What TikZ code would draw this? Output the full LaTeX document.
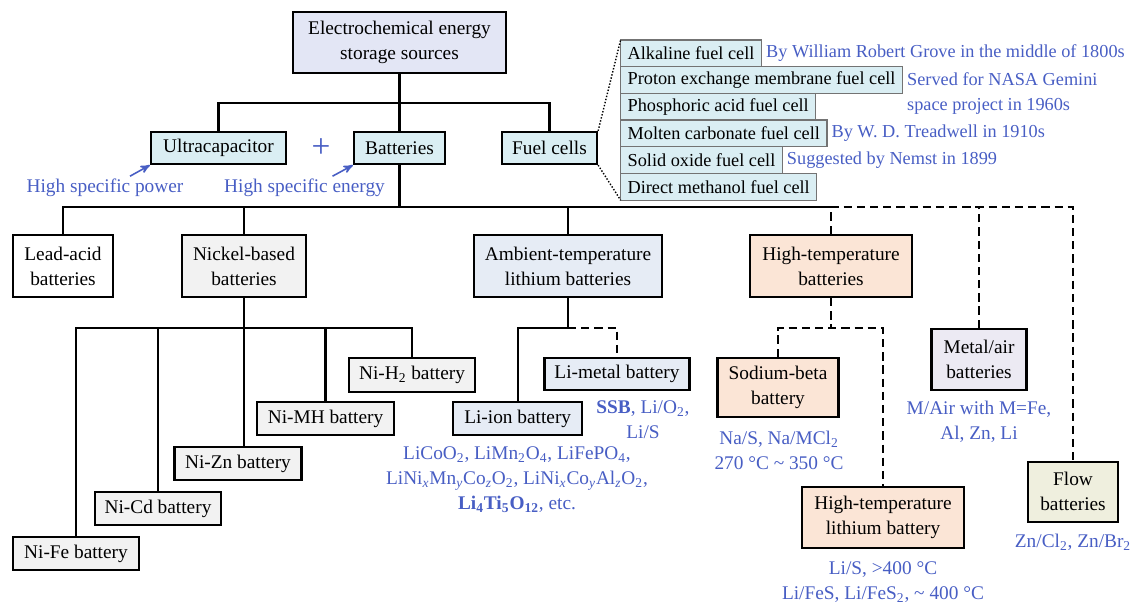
\documentclass[tikz,border=0pt]{standalone}
\usepackage{fontspec}
\setmainfont{Liberation Serif}
\usepackage{tikz}
\usetikzlibrary{arrows,positioning}

\definecolor{rootfill}{RGB}{227,230,245}
\definecolor{cyanfill}{RGB}{218,238,243}
\definecolor{grayfill}{RGB}{242,242,242}
\definecolor{lifill}{RGB}{230,236,245}
\definecolor{peachfill}{RGB}{251,229,214}
\definecolor{airfill}{RGB}{236,234,243}
\definecolor{flowfill}{RGB}{239,239,222}
\definecolor{noteblue}{RGB}{72,94,196}

\begin{document}
\begin{tikzpicture}[x=0.02cm,y=-0.02cm,>=stealth',line width=1.3pt,
    main node/.style={draw,fill=white,align=center,inner sep=0pt,font=\fontsize{11}{14.2}\selectfont},
    boxsize/.style 2 args={minimum width=#1cm,minimum height=#2cm},
    cell node/.style={draw=gray!90!black,line width=0.7pt,fill=cyanfill,outer sep=0pt,inner xsep=4pt,inner ysep=0pt,
                      minimum height=0.534cm,font=\fontsize{10.4}{14.2}\selectfont},
    note node/.style={text=noteblue,align=center,inner sep=1pt,font=\fontsize{11}{14.2}\selectfont},
    cell note/.style={note node,align=left,inner sep=2pt,font=\fontsize{10.4}{14.2}\selectfont},
    dash line/.style={dash pattern=on 4.7pt off 2.8pt}]

  \useasboundingbox (0,0) rectangle (1135,607);

  \node[main node,boxsize={4.26}{1.22},fill=rootfill] (root) at (399.5,42.5) {Electrochemical energy\\storage sources};
  \node[main node,boxsize={2.7}{0.64},fill=cyanfill] (uc) at (218.5,148) {Ultracapacitor};
  \node[main node,boxsize={1.82}{0.64},fill=cyanfill] (bat) at (399.5,148) {Batteries};
  \node[main node,boxsize={1.9}{0.64},fill=cyanfill] (fc) at (549.5,148) {Fuel cells};
  \node[note node,font=\fontsize{19}{19}\selectfont] (plus) at (321,148) {+};

  \node[note node] (hsp) at (105,188) {High specific power};
  \node[note node] (hse) at (304.5,188) {High specific energy};
  \draw[->,noteblue,line width=0.9pt] ([xshift=0.5cm]hsp.north) -- (uc.south west);
  \draw[->,noteblue,line width=0.9pt] ([xshift=0.56cm]hse.north) -- (bat.south west);

  \node[cell node,anchor=north west] (fc1) at (620.6,40) {Alkaline fuel cell};
  \node[cell node,anchor=north west] (fc2) at (fc1.south west) {Proton exchange membrane fuel cell};
  \node[cell node,anchor=north west] (fc3) at (fc2.south west) {Phosphoric acid fuel cell};
  \node[cell node,anchor=north west] (fc4) at (fc3.south west) {Molten carbonate fuel cell};
  \node[cell node,anchor=north west] (fc5) at (fc4.south west) {Solid oxide fuel cell};
  \node[cell node,anchor=north west] (fc6) at (fc5.south west) {Direct methanol fuel cell};
  \node[cell note,right=0pt of fc1] (fcn1) {By William Robert Grove in the middle of 1800s};
  \node[cell note,anchor=west] (fcn2) at (fc2.east |- fc3.north) {Served for NASA Gemini\\space project in 1960s};
  \node[cell note,right=0pt of fc4] (fcn4) {By W. D. Treadwell in 1910s};
  \node[cell note,right=0pt of fc5] (fcn5) {Suggested by Nemst in 1899};
  \draw[densely dotted,line width=0.8pt] (fc.north east) -- (fc1.north west);
  \draw[densely dotted,line width=0.8pt] (fc.south east) -- (fc6.south west);

  \node[main node,boxsize={2.0}{1.24}] (lead) at (63,266) {Lead-acid\\batteries};
  \node[main node,boxsize={2.48}{1.24},fill=grayfill] (nickel) at (244,266) {Nickel-based\\batteries};
  \node[main node,boxsize={3.76}{1.24},fill=lifill] (ambient) at (568,266) {Ambient-temperature\\lithium batteries};
  \node[main node,boxsize={3.24}{1.24},fill=peachfill] (hightemp) at (831,266) {High-temperature\\batteries};
  \node[main node,boxsize={1.9}{1.22},fill=airfill] (metalair) at (979,359.5) {Metal/air\\batteries};
  \node[main node,boxsize={1.8}{1.2},fill=flowfill] (flow) at (1073,491.7) {Flow\\batteries};

  \node[main node,boxsize={2.52}{0.68},fill=grayfill] (nih2) at (412,374.7) {Ni-H\textsubscript{2} battery};
  \node[main node,boxsize={2.74}{0.66},fill=grayfill] (nimh) at (325.5,418.4) {Ni-MH battery};
  \node[main node,boxsize={2.54}{0.66},fill=grayfill] (nizn) at (238,463.4) {Ni-Zn battery};
  \node[main node,boxsize={2.52}{0.66},fill=grayfill] (nicd) at (158,508.4) {Ni-Cd battery};
  \node[main node,boxsize={2.52}{0.66},fill=grayfill] (nife) at (76,553.4) {Ni-Fe battery};

  \node[main node,boxsize={2.58}{0.66},fill=lifill] (liion) at (517.7,418.4) {Li-ion battery};
  \node[main node,boxsize={2.9}{0.64},fill=lifill] (limetal) at (617,374) {Li-metal battery};
  \node[main node,boxsize={2.42}{1.18},fill=peachfill] (sodium) at (778,387.5) {Sodium-beta\\battery};
  \node[main node,boxsize={3.24}{1.22},fill=peachfill] (htli) at (883,517.5) {High-temperature\\lithium battery};

  \node[note node] (liionnote) at (517,480) {LiCoO\textsubscript{2}, LiMn\textsubscript{2}O\textsubscript{4}, LiFePO\textsubscript{4},\\
    LiNi\textsubscript{\textit{x}}Mn\textsubscript{\textit{y}}Co\textsubscript{\textit{z}}O\textsubscript{2}, LiNi\textsubscript{\textit{x}}Co\textsubscript{\textit{y}}Al\textsubscript{\textit{z}}O\textsubscript{2},\\
    \textbf{Li\textsubscript{4}Ti\textsubscript{5}O\textsubscript{12}}, etc.};
  \node[note node] (limetalnote) at (643,420) {\textbf{SSB}, Li/O\textsubscript{2},\\Li/S};
  \node[note node] (sodiumnote) at (779,450) {Na/S, Na/MCl\textsubscript{2}\\270 °C \textasciitilde{} 350 °C};
  \node[note node] (htlinote) at (883,582) {Li/S, >400 °C\\Li/FeS, Li/FeS\textsubscript{2}, \textasciitilde{} 400 °C};
  \node[note node] (metalairnote) at (979,422) {M/Air with M=Fe,\\Al, Zn, Li};
  \node[note node] (flownote) at (1073,542) {Zn/Cl\textsubscript{2}, Zn/Br\textsubscript{2}};

  \coordinate (tbus) at (399.5,103);
  \coordinate (bbus) at (399.5,207);
  \coordinate (nbus) at (244,328);
  \coordinate (abus) at (568,328);
  \coordinate (hbus) at (831,328);

  \draw (root.south) -- (tbus);
  \draw (uc.north) |- (tbus) -| (fc.north);
  \draw (bat.north) -- (tbus);

  \draw (bat.south) -- (bbus);
  \draw (lead.north) |- (hightemp.north |- bbus);
  \draw (nickel.north) -- (nickel.north |- bbus);
  \draw (ambient.north) -- (ambient.north |- bbus);
  \draw[dash line] (hightemp.north) -- (hightemp.north |- bbus) -- (flow.north |- bbus) -- (flow.north);
  \draw[dash line] (metalair.north) -- (metalair.north |- bbus);

  \draw (nickel.south) -- (nizn.north -| nickel.south);
  \draw (nife.north) |- (nbus) -| (nih2.north);
  \draw (nicd.north) -- (nicd.north |- nbus);
  \draw (nimh.north) -- (nimh.north |- nbus);

  \draw (ambient.south) -- (abus) -| (liion.north);
  \draw[dash line] (abus) -| (limetal.north);

  \draw[dash line] (hightemp.south) -- (hbus);
  \draw[dash line] (sodium.north) |- (hbus) -| (htli.north);
\end{tikzpicture}
\end{document}
